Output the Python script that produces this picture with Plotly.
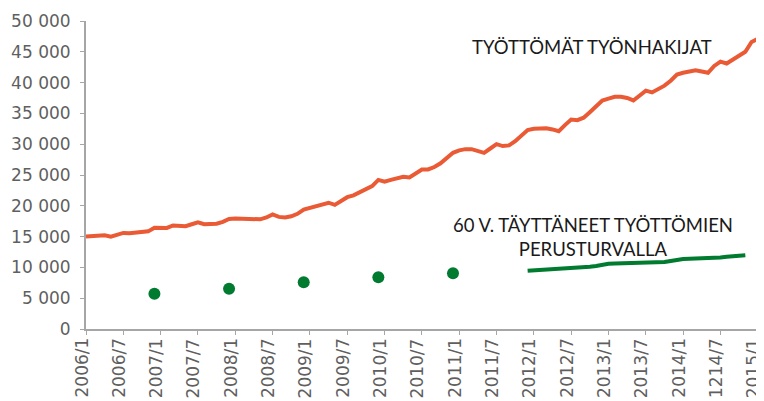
import plotly.graph_objects as go

# Month index: 0 = 2006/1
red_values = [15000, 15050, 15250, 15200, 15000, 15250, 15600, 15550, 15600, 15750,
              15850, 16450, 16500, 16400, 16800, 16750, 16700, 17000, 17300, 17000,
              17000, 17100, 17400, 17850, 17950, 17950, 17950, 17900, 17800, 18100,
              18600, 18200, 18100, 18300, 18700, 19400, 19700, 20000, 20300, 20500,
              20150, 20700, 21400, 21700, 22200, 22600, 23200, 24200, 23900, 24200,
              24500, 24700, 24600, 25200, 25900, 25900, 26300, 26900, 27800, 28600,
              29000, 29200, 29200, 28900, 28600, 29300, 30000, 29700, 29800, 30500,
              31300, 32300, 32500, 32500, 32600, 32400, 32100, 33100, 34000, 33900,
              34300, 35200, 36200, 37100, 37400, 37700, 37700, 37500, 37100, 38000,
              38700, 38400, 38900, 39500, 40300, 41300, 41600, 41800, 42000, 41800,
              41600, 42700, 43400, 43100, 43700, 44300, 45000, 46600, 47100, 47100]
red_months = list(range(len(red_values)))

dot_months = [11, 23, 35, 47, 59]
dot_values = [5730, 6540, 7580, 8390, 9040]

green_start = 71
green_values = [9460, 9520, 9580, 9620, 9650, 9700, 9760, 9820, 9900, 10000,
                10100, 10230, 10450, 10600, 10630, 10650, 10650, 10680, 10720, 10760,
                10800, 10840, 10880, 11050, 11250, 11350, 11420, 11460, 11460, 11420,
                11500, 11600, 11720, 11800, 11900, 11960]
green_months = list(range(green_start, green_start + len(green_values)))

tick_positions = list(range(0, 109, 6))
tick_labels = ["2006/1", "2006/7", "2007/1", "2007/7", "2008/1", "2008/7", "2009/1",
               "2009/7", "2010/1", "2010/7", "2011/1", "2011/7", "2012/1", "2012/7",
               "2013/1", "2013/7", "2014/1", "1214/7", "2015/1"]

RED = "#E95A35"
GREEN = "#017B30"
GREY_TXT = "#5f5f5f"
AXIS = "#A6A6A6"
FONT = "Lato, 'Noto Sans', sans-serif"
TICKFONT = "'DejaVu Sans', sans-serif"

fig = go.Figure()
fig.add_trace(go.Scatter(x=red_months, y=red_values, mode="lines",
                         line=dict(color=RED, width=4), hoverinfo="skip"))
fig.add_trace(go.Scatter(x=dot_months, y=dot_values, mode="markers",
                         marker=dict(color=GREEN, size=12), hoverinfo="skip"))
fig.add_trace(go.Scatter(x=green_months, y=green_values, mode="lines",
                         line=dict(color=GREEN, width=4), hoverinfo="skip"))

fig.add_annotation(x=81.4, y=45800, text="TYÖTTÖMÄT TYÖNHAKIJAT", showarrow=False,
                   font=dict(family=FONT, size=18.5, color="#1a1a1a"))
fig.add_annotation(x=81.5, y=15000, text="60 V. TÄYTTÄNEET TYÖTTÖMIEN<br>PERUSTURVALLA",
                   showarrow=False, align="center",
                   font=dict(family=FONT, size=18.5, color="#1a1a1a"))

# rotated category labels under the x axis (sitting slightly left of each tick)
for pos, lab in zip(tick_positions, tick_labels):
    fig.add_annotation(x=pos, xref="x", y=0, yref="paper",
                       text=lab, showarrow=False, textangle=-90,
                       xanchor="center", yanchor="top", xshift=-4.5, yshift=-7,
                       font=dict(family=TICKFONT, size=17, color=GREY_TXT))

# The page body has an 8px default margin; compensate so the plot area lands
# at the reference position in the 764x401 window.
fig.update_layout(
    width=756, height=393,
    margin=dict(l=78, r=0, t=13, b=72),
    paper_bgcolor="white", plot_bgcolor="white",
    showlegend=False,
    separators=", ",
    font=dict(family=FONT, color=GREY_TXT, size=18),
)
fig.update_xaxes(range=[0, 109], tickmode="array", tickvals=tick_positions,
                 showticklabels=False, showgrid=False, zeroline=False,
                 showline=True, linecolor=AXIS, linewidth=2, ticks="outside",
                 ticklen=4, tickcolor=AXIS, automargin=False)
fig.update_yaxes(range=[0, 50000], dtick=5000, tickformat=",d", showgrid=False,
                 zeroline=False, showline=True, linecolor=AXIS, linewidth=2,
                 ticks="outside", ticklen=4, tickcolor=AXIS, automargin=False,
                 ticklabelstandoff=6, ticklabeloverflow="allow",
                 tickfont=dict(family=TICKFONT, size=17, color=GREY_TXT))

fig.write_html("out.html")
